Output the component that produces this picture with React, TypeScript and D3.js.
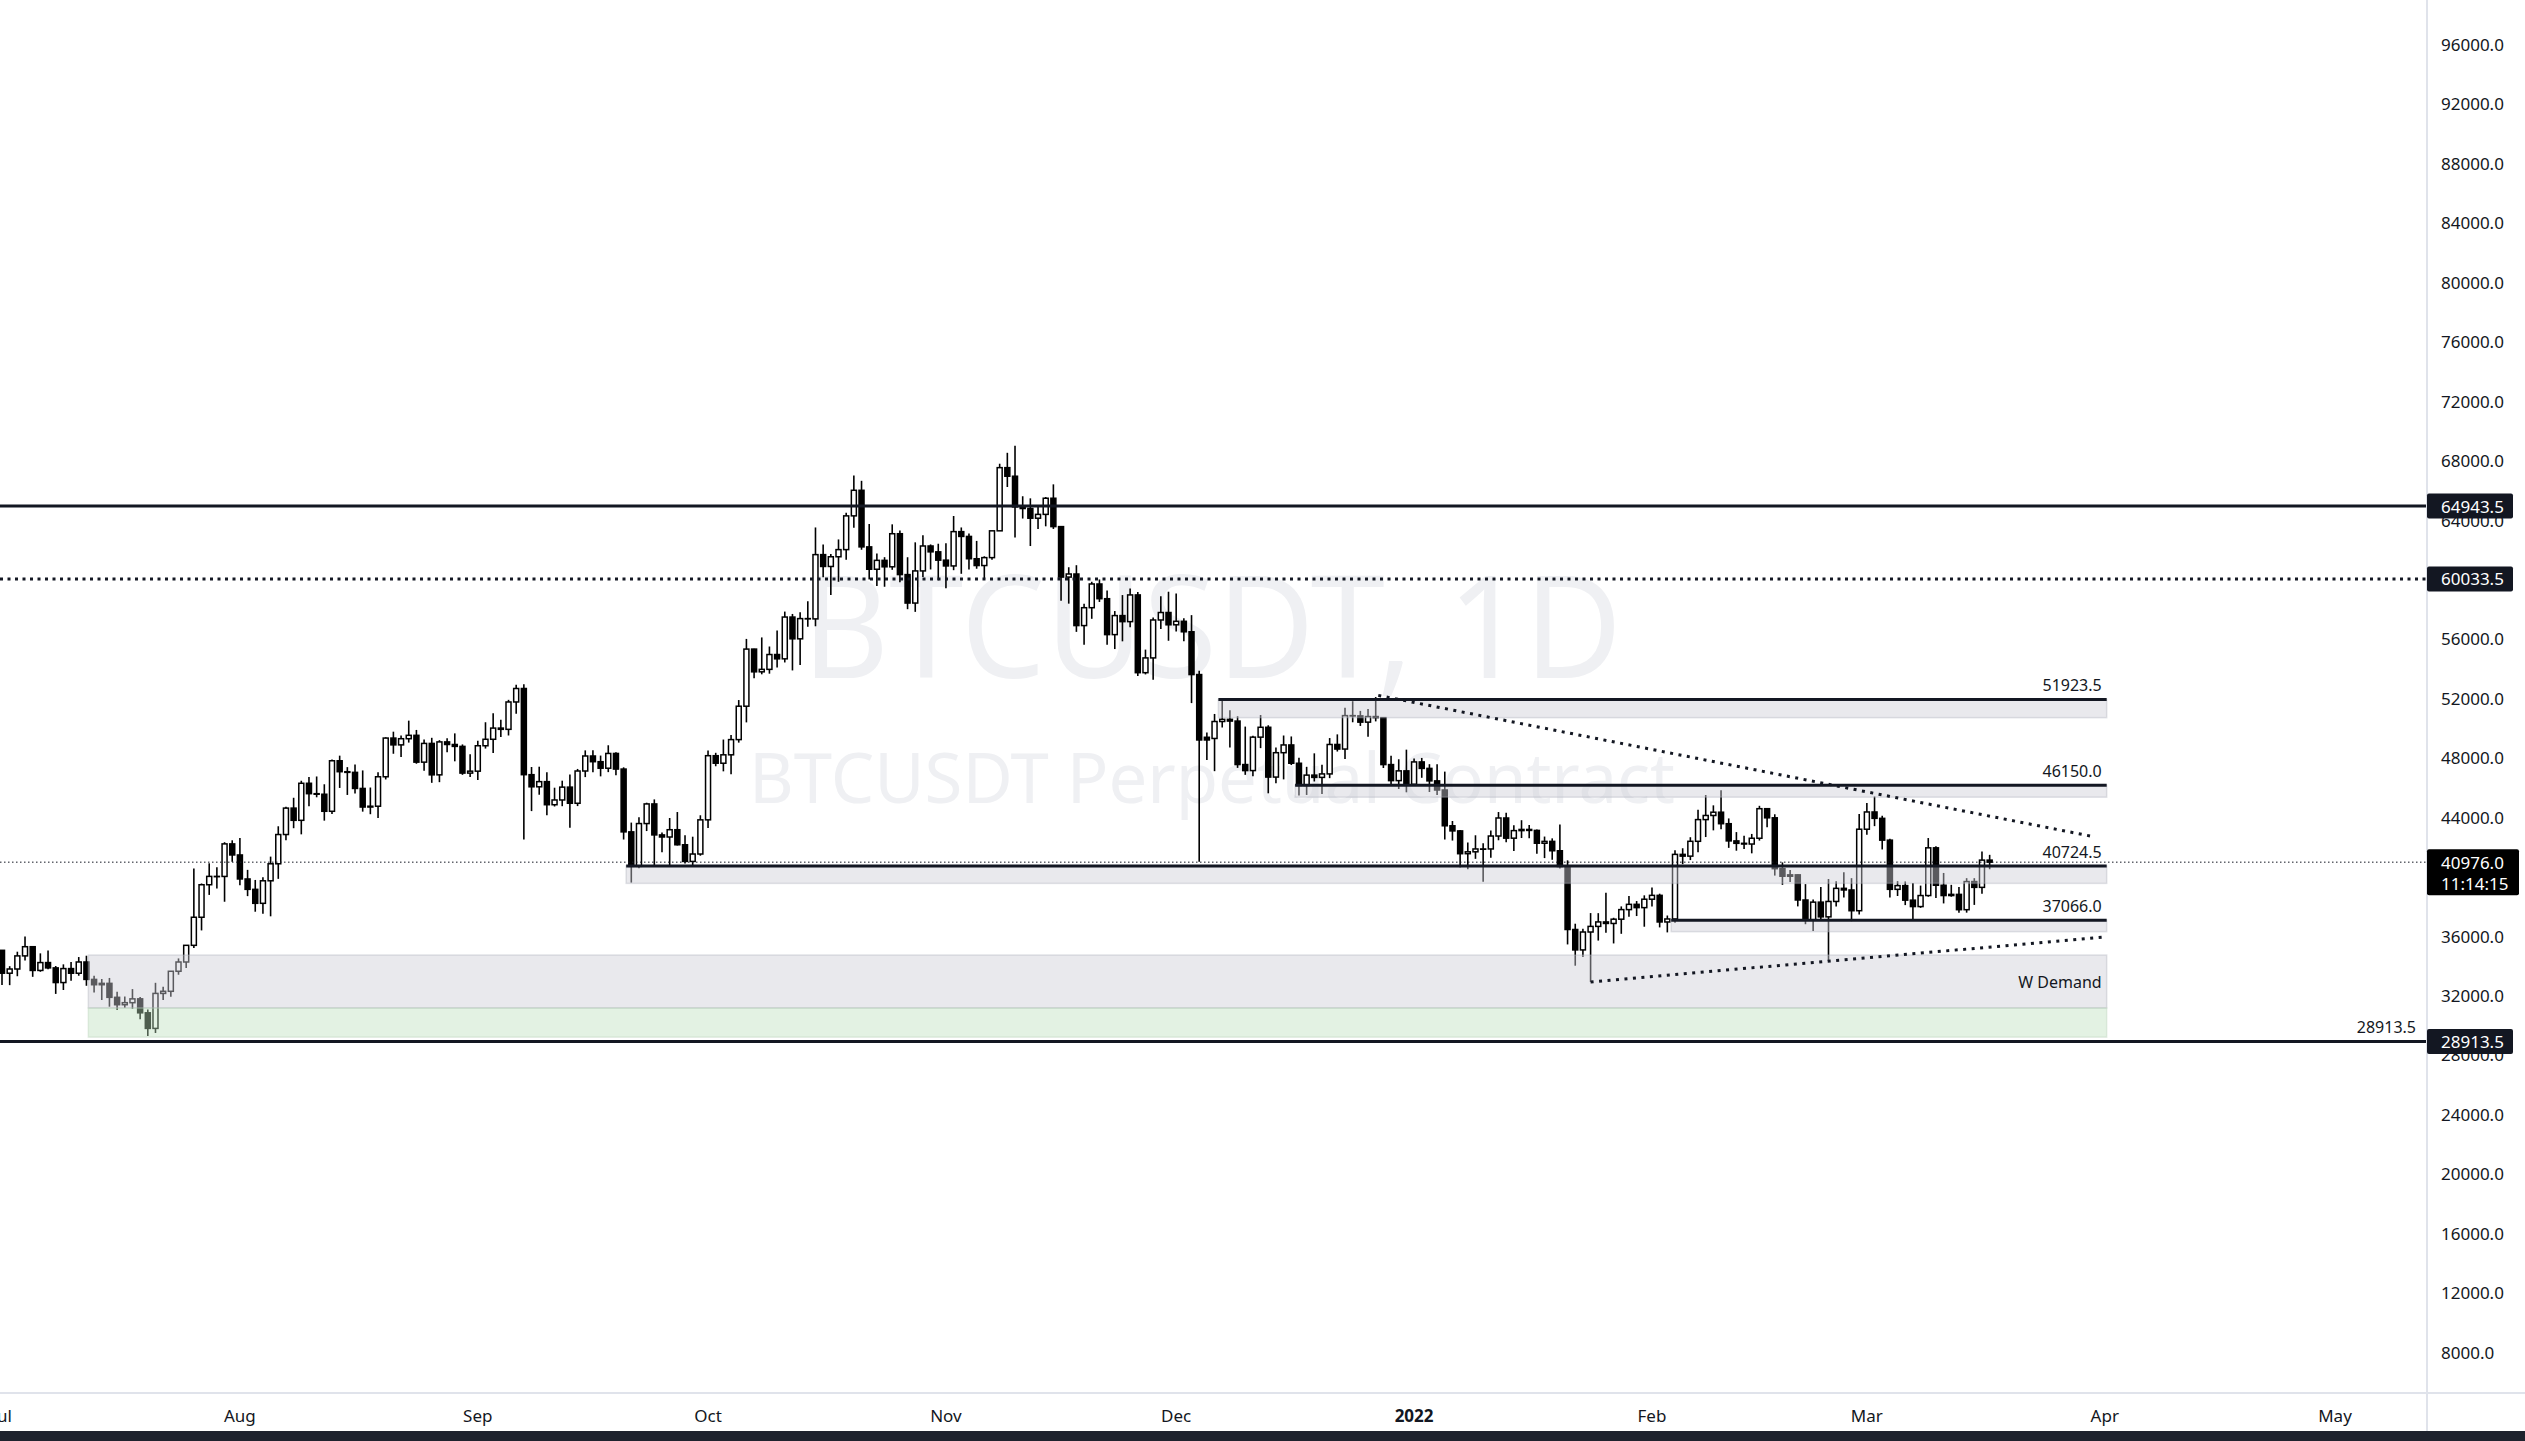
import React, { useEffect } from 'react';
import * as d3 from 'd3';

type Bar = [number, number, number, number]; // open, high, low, close

const jul2021: Bar[] = [
  [35045, 35062, 32711, 33504], [33504, 33977, 32700, 33786], [33786, 34951, 33300, 34669], [34669, 35967, 34357, 35287],
  [35287, 35287, 33260, 33690], [33690, 34840, 33600, 34220], [34220, 35040, 33777, 33862], [33862, 33990, 32111, 32875],
  [32875, 34100, 32375, 33815], [33815, 34262, 33004, 33502], [33502, 34592, 33332, 34259], [34259, 34681, 32658, 33086],
  [33086, 33340, 32202, 32729], [32729, 33114, 31700, 32820], [32820, 33185, 31250, 31880], [31880, 32249, 31020, 31383],
  [31383, 31935, 31176, 31520], [31520, 32435, 31108, 31778], [31778, 31899, 30407, 30839], [30839, 31063, 29278, 29790],
  [29790, 32858, 29482, 32144], [32144, 32591, 31708, 32287], [32287, 33650, 31924, 33634], [33634, 34500, 33401, 34258],
  [34258, 35398, 33851, 35380], [35380, 40550, 35205, 37269], [37269, 39542, 36383, 39457], [39457, 40900, 38772, 40019],
  [40019, 40640, 39200, 40016], [40016, 42320, 38313, 42206], [42206, 42448, 41000, 41461],
];

const aug2021: Bar[] = [
  [41461, 42599, 39422, 39846], [39846, 40459, 38690, 39147], [39147, 39780, 37642, 38207], [38207, 39969, 37508, 39723],
  [39723, 41350, 37332, 40867], [40867, 43392, 39853, 42836], [42836, 44700, 42450, 44614], [44614, 45310, 43261, 43792],
  [43792, 46456, 42848, 46285], [46285, 46700, 44742, 45585], [45585, 46743, 45341, 45547], [45547, 46218, 43770, 44400],
  [44400, 47886, 44217, 47800], [47800, 48144, 45971, 47064], [47064, 47372, 45500, 47019], [47019, 47550, 45600, 45937],
  [45937, 47150, 44376, 44686], [44686, 46000, 44203, 44741], [44741, 47033, 43955, 46723], [46723, 49382, 46541, 49327],
  [49327, 49757, 48271, 48869], [48869, 49500, 48050, 49284], [49284, 50500, 49023, 49512], [49512, 49875, 47600, 47707],
  [47707, 49226, 47122, 48967], [48967, 49345, 46315, 46852], [46852, 49185, 46360, 49069], [49069, 49309, 48370, 48895],
  [48895, 49643, 47762, 48767], [48767, 48900, 46852, 46970], [46970, 48246, 46700, 47100],
];

const sep2021: Bar[] = [
  [47100, 49150, 46512, 48810], [48810, 50392, 48620, 49246], [49246, 51000, 48316, 49999], [49999, 50558, 49400, 49915],
  [49915, 51900, 49500, 51756], [51756, 52920, 50969, 52663], [52663, 52950, 42500, 46864], [46864, 47381, 44412, 46048],
  [46048, 47400, 45514, 46395], [46395, 47031, 44132, 44842], [44842, 45987, 44722, 45161], [45161, 46460, 44742, 46026],
  [46026, 46876, 43300, 44940], [44940, 47250, 44750, 47111], [47111, 48500, 46700, 48121], [48121, 48500, 47020, 47737],
  [47737, 48150, 46750, 47299], [47299, 48843, 47035, 48292], [48292, 48372, 46829, 47241], [47241, 47358, 42500, 43015],
  [43015, 43639, 39600, 40694], [40694, 44000, 40565, 43574], [43574, 44978, 43069, 44895], [44895, 45200, 40780, 42810],
  [42810, 42966, 41646, 42670], [42670, 43950, 40780, 43160], [43160, 44350, 42098, 42147], [42147, 42787, 40888, 41026],
  [41026, 42690, 40753, 41524], [41524, 44132, 41410, 43824],
];

const oct2021: Bar[] = [
  [43824, 48495, 43283, 48141], [48141, 48336, 47430, 47634], [47634, 49228, 47088, 48200], [48200, 49536, 46891, 49224],
  [49224, 51886, 49020, 51471], [51471, 56000, 50382, 55315], [55315, 55332, 53357, 53785], [53785, 56100, 53617, 53951],
  [53951, 55489, 53661, 54949], [54949, 56561, 54080, 54659], [54659, 57839, 54415, 57471], [57471, 57680, 53879, 56005],
  [56005, 57795, 54250, 57367], [57367, 58532, 56818, 57347], [57347, 63500, 56850, 61672], [61672, 62345, 60150, 60875],
  [60875, 61720, 58963, 61528], [61528, 62695, 59844, 62009], [62009, 64486, 61322, 64280], [64280, 67000, 63482, 66001],
  [66001, 66639, 62000, 62193], [62193, 63732, 60000, 60688], [60688, 61747, 59562, 61286], [61286, 61500, 59510, 60852],
  [60852, 63710, 60650, 63078], [63078, 63293, 59817, 60328], [60328, 61496, 58000, 58413], [58413, 62499, 57820, 60575],
  [60575, 62980, 60174, 62253], [62253, 62359, 60673, 61859], [61859, 62405, 59945, 61300],
];

const nov2021: Bar[] = [
  [61300, 62437, 59405, 60911], [60911, 64270, 60624, 63219], [63219, 63500, 60382, 62896], [62896, 63086, 60677, 61395],
  [61395, 62595, 60721, 60937], [60937, 61560, 60050, 61470], [61470, 63286, 61322, 63273], [63273, 67789, 63273, 67525],
  [67525, 68524, 66222, 66947], [66947, 69000, 62822, 64882], [64882, 65600, 64100, 64774], [64774, 65460, 62250, 64122],
  [64122, 64972, 63400, 64380], [64380, 65550, 63576, 65466], [65466, 66401, 63400, 63557], [63557, 63557, 58574, 60161],
  [60161, 60823, 58373, 60368], [60368, 60960, 56474, 56897], [56897, 58366, 55600, 58100], [58100, 59845, 57353, 59696],
  [59696, 60000, 58486, 58706], [58706, 59266, 55610, 56289], [56289, 57875, 55317, 57569], [57569, 58950, 55837, 57162],
  [57162, 59398, 56792, 58960], [58960, 59150, 53500, 53727], [53727, 55280, 53610, 54721], [54721, 57445, 53256, 57274],
  [57274, 58865, 56666, 57776], [57776, 59176, 55875, 56950],
];

const dec2021: Bar[] = [
  [56950, 59050, 56500, 57184], [57184, 57390, 55836, 56480], [56480, 57600, 51680, 53601], [53601, 53859, 41000, 49200],
  [49380, 49700, 47850, 49200], [49300, 50950, 47100, 50441], [50441, 51936, 50039, 50588], [50588, 51200, 48700, 50471],
  [50471, 50797, 47320, 47545], [47545, 50100, 46852, 47140], [47140, 49485, 46751, 49389], [49389, 50880, 48650, 50053],
  [50053, 50189, 45610, 46702], [46702, 48700, 46290, 48343], [48343, 49500, 46547, 48864], [48864, 49436, 47511, 47632],
  [47632, 47995, 45456, 46131], [46131, 47392, 45500, 46834], [46834, 48300, 46406, 46681], [46681, 47537, 45558, 46915],
  [46915, 49328, 46630, 48896], [48896, 49576, 48421, 48588], [48588, 51375, 47920, 50838], [50838, 51810, 50390, 50820],
  [50820, 51156, 50142, 50399], [50399, 51280, 49412, 50775], [50775, 52088, 50449, 50701], [50701, 50704, 47313, 47543],
  [47543, 48139, 46096, 46464], [46464, 47900, 45900, 47120], [47120, 48548, 45678, 46216],
];

const jan2022: Bar[] = [
  [46216, 47954, 46208, 47722], [47722, 47990, 46654, 47286], [47286, 47570, 45696, 46446], [46446, 47557, 45500, 45833],
  [45833, 47070, 42500, 43425], [43425, 43748, 42430, 43080], [43080, 43145, 40610, 41546], [41546, 42300, 40501, 41673],
  [41673, 42786, 41200, 41865], [41865, 42248, 39650, 41865], [41865, 43100, 41269, 42736], [42736, 44350, 42450, 43949],
  [43949, 44300, 42310, 42591], [42591, 43460, 41725, 43099], [43099, 43800, 42600, 43178], [43178, 43476, 42581, 43113],
  [43113, 43176, 41540, 42250], [42250, 42700, 41250, 42375], [42375, 42578, 41138, 41744], [41744, 43505, 40553, 40680],
  [40680, 41100, 35440, 36445], [36445, 36835, 34008, 35071], [35071, 36499, 34601, 36276], [36276, 37550, 32917, 36654],
  [36654, 37545, 35700, 36954], [36954, 38919, 36234, 36852], [36852, 37234, 35507, 37138], [37138, 38000, 36155, 37784],
  [37784, 38700, 37300, 38138], [38138, 38360, 37350, 37917], [37917, 38744, 36632, 38483],
];

const feb2022: Bar[] = [
  [38483, 39265, 38000, 38743], [38743, 38855, 36586, 36952], [36952, 37387, 36250, 37154], [37154, 41772, 36900, 41500],
  [41500, 41913, 40843, 41382], [41382, 42656, 41116, 42380], [42380, 44500, 41645, 43840], [43840, 45492, 42666, 44118],
  [44118, 44800, 43117, 44338], [44338, 45821, 43187, 43565], [43565, 43920, 41938, 42407], [42407, 43000, 41748, 42244],
  [42244, 42760, 41870, 42197], [42197, 42876, 41570, 42586], [42586, 44769, 42427, 44575], [44575, 44583, 43334, 43961],
  [43961, 44200, 40073, 40538], [40538, 40959, 39450, 40030], [40030, 40444, 39639, 40122], [40122, 40150, 38000, 38431],
  [38431, 39500, 36800, 37075], [37075, 38470, 36350, 38286], [38286, 39300, 37036, 37296], [37296, 39843, 34322, 38332],
  [38332, 39700, 38000, 39214], [39214, 40300, 38600, 39105], [39105, 39900, 37000, 37709], [37709, 44225, 37450, 43193],
];

const mar2022: Bar[] = [
  [43193, 44950, 42816, 44354], [44354, 45400, 43400, 43925], [43925, 44100, 41832, 42458], [42458, 42550, 38600, 39148],
  [39148, 39700, 38700, 39398], [39398, 39680, 38087, 38420], [38420, 39580, 37155, 37988], [37988, 39400, 37900, 38730],
  [38730, 42600, 38650, 41941], [41941, 42050, 38560, 39422], [39422, 40250, 38200, 38730], [38730, 39450, 38650, 38808],
  [38808, 39300, 37578, 37778], [37778, 39900, 37578, 39671], [39671, 39900, 38100, 39281], [39281, 41700, 38850, 41115],
  [41115, 41470, 40500, 40976],
];

const firstBarDate = '2021-07-01T00:00:00Z';

const priceTicks = [96000, 92000, 88000, 84000, 80000, 76000, 72000, 68000, 64000, 60000, 56000, 52000,
  48000, 44000, 40000, 36000, 32000, 28000, 24000, 20000, 16000, 12000, 8000];
const monthTickDates = ['2021-07-01', '2021-08-01', '2021-09-01', '2021-10-01', '2021-11-01', '2021-12-01',
  '2022-01-01', '2022-02-01', '2022-03-01', '2022-04-01', '2022-05-01'];
const monthTickLabels = ['Jul', 'Aug', 'Sep', 'Oct', 'Nov', 'Dec', '2022', 'Feb', 'Mar', 'Apr', 'May'];

const levelPrices = [51923.5, 46150.0, 40724.5, 37066.0];
const levelZoneLows = [50700, 45350, 39550, 36300];
const levelStarts = ['2021-12-06T12:00:00Z', '2021-12-16T12:00:00Z', '2021-09-20T08:00:00Z', '2022-02-03T12:00:00Z'];
const zonesEnd = '2022-04-01T06:00:00Z';
const solidFullLevels = [64943.5, 28913.5];
const dottedFullLevels = [60033.5];
const demandZone = [34728, 31162];
const greenZone = [31162, 29200];
const demandStart = '2021-07-12T06:00:00Z';
const upperTrend: [string, number][] = [['2021-12-27T08:00:00Z', 52200], ['2022-03-30T16:00:00Z', 42680]];
const lowerTrend: [string, number][] = [['2022-01-24T00:00:00Z', 32917], ['2022-04-01T06:00:00Z', 35950]];
const lastPrice = 40976.0;
const countdown = '11:14:15';
const markedPrices = [64943.5, 60033.5, 28913.5];

const W = 2525;
const H = 1441;
const PLOT_R = 2427;
const AXIS_Y = 1393;
const FONT = "'Noto Sans', 'Liberation Sans', sans-serif";
const INK = '#131722';

export default function App() {
  useEffect(() => {
    document.body.style.margin = '0';
    document.body.style.overflow = 'hidden';
  }, []);

  const all = [jul2021, aug2021, sep2021, oct2021, nov2021, dec2021, jan2022, feb2022, mar2022].flat();
  const t0 = new Date(firstBarDate).getTime();
  const candles = all.map((b, i) => ({ date: new Date(t0 + i * 86400000), o: b[0], h: b[1], l: b[2], c: b[3] }));

  const x = d3.scaleUtc().domain([new Date('2021-07-01T00:00:00Z'), new Date('2022-05-01T00:00:00Z')]).range([2, 2335]);
  const y = d3.scaleLinear().domain([8000, 96000]).range([1352.2, 44.5]);
  const fmt = d3.format('.1f');
  const D = (s: string) => new Date(s.length <= 10 ? s + 'T00:00:00Z' : s);
  const xEnd = x(D(zonesEnd));
  const trend = d3.line<[string, number]>().x((d) => x(D(d[0]))).y((d) => y(d[1]));

  // axis labels fully hidden behind a price box are dropped (as the platform does)
  const coverYs = [...markedPrices.map((p) => y(p)), y(lastPrice) + 10];
  const visibleTicks = priceTicks.filter((p) => coverYs.every((cy) => Math.abs(y(p) - cy) > 12));

  const zoneFill = 'rgba(205,206,213,0.44)';
  const zoneStroke = 'rgba(170,172,182,0.35)';
  const greenFill = 'rgba(188,224,188,0.42)';

  return (
    <svg width={W} height={H} style={{ position: 'absolute', left: 0, top: 0, background: '#fff' }} fontFamily={FONT}>
      <defs>
        <clipPath id="plot"><rect x={0} y={0} width={PLOT_R} height={AXIS_Y} /></clipPath>
      </defs>
      <rect x={0} y={0} width={W} height={H} fill="#ffffff" />
      <g clipPath="url(#plot)">
        {/* watermark */}
        <text x={1212} y={678} textAnchor="middle" fontSize={142} textLength={820} lengthAdjust="spacingAndGlyphs" fill="#eff0f3">BTCUSDT, 1D</text>
        <text x={1212} y={803} textAnchor="middle" fontSize={70} textLength={926} lengthAdjust="spacingAndGlyphs" fill="#eff0f3">BTCUSDT Perpetual Contract</text>

        {/* candles */}
        {candles.map((d, i) => {
          const cx = x(d.date);
          const up = d.c >= d.o;
          const yTop = y(Math.max(d.o, d.c));
          const yBot = y(Math.min(d.o, d.c));
          return (
            <g key={i}>
              <line x1={cx} x2={cx} y1={y(d.h)} y2={y(d.l)} stroke="#000" strokeWidth={1.6} />
              <rect x={cx - 2.5} y={yTop} width={5} height={Math.max(yBot - yTop, 0.3)} fill={up ? '#fff' : '#000'} stroke="#000" strokeWidth={1.5} />
            </g>
          );
        })}

        {/* zones (drawn over candles, semi-transparent) */}
        <rect x={x(D(demandStart))} y={y(demandZone[0])} width={xEnd - x(D(demandStart))} height={y(demandZone[1]) - y(demandZone[0])} fill={zoneFill} stroke={zoneStroke} strokeWidth={1.5} />
        <rect x={x(D(demandStart))} y={y(greenZone[0])} width={xEnd - x(D(demandStart))} height={y(greenZone[1]) - y(greenZone[0])} fill={greenFill} stroke="rgba(170,200,170,0.3)" strokeWidth={1.5} />
        {levelPrices.map((p, i) => (
          <rect key={'z' + i} x={x(D(levelStarts[i]))} y={y(p)} width={xEnd - x(D(levelStarts[i]))} height={y(levelZoneLows[i]) - y(p)} fill={zoneFill} stroke={zoneStroke} strokeWidth={1.5} />
        ))}

        {/* level lines */}
        {levelPrices.map((p, i) => (
          <line key={'l' + i} x1={x(D(levelStarts[i]))} x2={xEnd} y1={y(p)} y2={y(p)} stroke={INK} strokeWidth={3} />
        ))}
        {solidFullLevels.map((p, i) => (
          <line key={'s' + i} x1={0} x2={PLOT_R} y1={y(p)} y2={y(p)} stroke={INK} strokeWidth={3} />
        ))}
        {dottedFullLevels.map((p, i) => (
          <line key={'d' + i} x1={0} x2={PLOT_R} y1={y(p)} y2={y(p)} stroke={INK} strokeWidth={3} strokeDasharray="3 4.5" />
        ))}
        <path d={trend(upperTrend) || ''} fill="none" stroke={INK} strokeWidth={3} strokeDasharray="3 5.5" />
        <path d={trend(lowerTrend) || ''} fill="none" stroke={INK} strokeWidth={3} strokeDasharray="3 5.5" />
        <line x1={0} x2={PLOT_R} y1={y(lastPrice)} y2={y(lastPrice)} stroke={INK} strokeWidth={1} strokeDasharray="1.5 2.5" />

        {/* level labels */}
        {levelPrices.map((p, i) => (
          <text key={'t' + i} x={xEnd - 5} y={y(p) - 8} textAnchor="end" fontSize={16} fill={INK}>{fmt(p)}</text>
        ))}
        <text x={xEnd - 5} y={(y(demandZone[0]) + y(demandZone[1])) / 2 + 6} textAnchor="end" fontSize={16} fill={INK}>W Demand</text>
        <text x={PLOT_R - 11} y={y(28913.5) - 8} textAnchor="end" fontSize={16} fill={INK}>{fmt(28913.5)}</text>
      </g>

      {/* axes separators */}
      <line x1={PLOT_R} x2={PLOT_R} y1={0} y2={H} stroke="#e0e3eb" strokeWidth={2} />
      <line x1={0} x2={W} y1={AXIS_Y} y2={AXIS_Y} stroke="#e0e3eb" strokeWidth={2} />

      {/* price axis */}
      {visibleTicks.map((p) => (
        <text key={p} x={2441} y={y(p)} dominantBaseline="central" fontSize={17} fill={INK}>{fmt(p)}</text>
      ))}
      {markedPrices.map((p) => (
        <g key={'m' + p}>
          <rect x={PLOT_R} y={y(p) - 12.5} width={86} height={25} rx={2} fill={INK} />
          <text x={2441} y={y(p)} dominantBaseline="central" fontSize={17} fill="#fff">{fmt(p)}</text>
        </g>
      ))}
      <rect x={PLOT_R} y={y(lastPrice) - 13} width={92} height={46} rx={2} fill="#000" />
      <text x={2441} y={y(lastPrice)} dominantBaseline="central" fontSize={17} fill="#fff">{fmt(lastPrice)}</text>
      <text x={2441} y={y(lastPrice) + 21} dominantBaseline="central" fontSize={17} fill="#fff">{countdown}</text>

      {/* time axis */}
      {monthTickDates.map((d, i) => (
        <text key={d} x={x(D(d))} y={1415} textAnchor="middle" dominantBaseline="central" fontSize={17} fontWeight={monthTickLabels[i] === '2022' ? 700 : 400} fill={INK}>{monthTickLabels[i]}</text>
      ))}
      <rect x={0} y={1431} width={W} height={H - 1431} fill="#1e222d" />
    </svg>
  );
}
